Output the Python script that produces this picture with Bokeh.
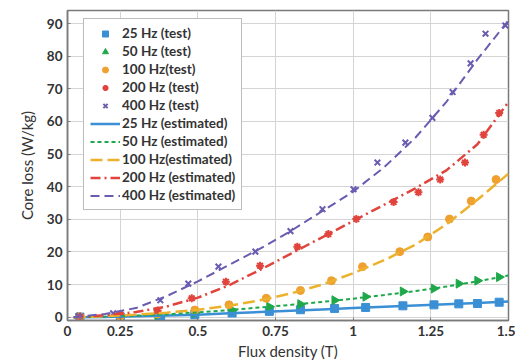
from bokeh.plotting import figure
from bokeh.models import Range1d, FixedTicker, Legend, LegendItem
from bokeh.embed import file_html
from bokeh.resources import INLINE

# ---- data ----
x_test_25 = [0.12, 0.25, 0.38, 0.49, 0.61, 0.73, 0.83, 0.94, 1.04, 1.16, 1.26, 1.34, 1.40, 1.47]
y_test_25 = [0.05, 0.1, -0.5, 0.8, 1.3, 1.8, 2.3, 2.7, 3.0, 3.5, 3.8, 4.1, 4.2, 4.6]

x_test_50 = [0.12, 0.25, 0.37, 0.49, 0.61, 0.73, 0.83, 0.94, 1.04, 1.16, 1.26, 1.34, 1.40, 1.47]
y_test_50 = [0.05, 0.2, 0.6, 1.3, 2.2, 3.2, 4.0, 5.2, 6.3, 7.9, 8.8, 10.3, 11.2, 12.3]

x_test_100 = [0.12, 0.25, 0.37, 0.49, 0.60, 0.72, 0.83, 0.93, 1.03, 1.15, 1.24, 1.31, 1.38, 1.46]
y_test_100 = [0.1, 0.3, 1.0, 2.2, 3.8, 5.8, 8.2, 11.2, 15.5, 20.1, 24.6, 30.1, 35.6, 42.2]

x_test_200 = [0.12, 0.25, 0.37, 0.48, 0.59, 0.70, 0.82, 0.92, 1.01, 1.13, 1.21, 1.28, 1.36, 1.42, 1.47]
y_test_200 = [0.2, 0.8, 2.1, 5.8, 10.9, 15.8, 21.6, 25.5, 30.1, 35.3, 38.3, 42.2, 47.4, 55.9, 62.6]

x_test_400 = [0.115, 0.227, 0.379, 0.469, 0.566, 0.685, 0.798, 0.901, 1.001, 1.078, 1.168, 1.255, 1.32, 1.378, 1.426, 1.49]
y_test_400 = [0.3, 1.2, 5.2, 10.3, 15.5, 20.1, 26.4, 33.1, 39.2, 47.4, 53.5, 61.1, 69.0, 77.8, 86.9, 89.4]

x_est = [0.1, 0.2, 0.3, 0.4, 0.5, 0.6, 0.7, 0.8, 0.9, 1.0, 1.1, 1.2, 1.3, 1.4, 1.5]
y_est_25 = [0, 0.1, 0.3, 0.5, 0.8, 1.2, 1.6, 2.0, 2.4, 2.8, 3.2, 3.6, 4.0, 4.4, 4.8]
y_est_50 = [0, 0.2, 0.5, 0.9, 1.5, 2.2, 3.0, 3.8, 4.7, 5.7, 6.8, 8.0, 9.4, 11.0, 12.8]
y_est_100 = [0, 0.3, 0.8, 1.4, 2.3, 3.5, 5.2, 7.3, 10.0, 13.5, 17.5, 22.2, 28.5, 36.0, 44.0]
y_est_200 = [0, 0.6, 1.6, 3.3, 6.0, 9.8, 14.5, 19.5, 24.5, 29.5, 34.5, 39.5, 45.0, 53.0, 66.0]
y_est_400 = [0, 1.0, 2.8, 6.5, 11.0, 16.0, 21.0, 26.5, 32.5, 38.5, 46.0, 55.0, 66.0, 79.0, 91.0]

x_ticks = [0.08, 0.25, 0.5, 0.75, 1.0, 1.25, 1.5]
x_tick_labels = ["0", "0.25", "0.5", "0.75", "1", "1.25", "1.5"]
y_ticks = [0, 10, 20, 30, 40, 50, 60, 70, 80, 90]

FONT = "Lato"
C25, C50, C100, C200, C400 = "#3b8fd4", "#1fa84a", "#ecb22e", "#e0443c", "#6a5cb0"

p = figure(width=515, height=362, output_backend="svg", toolbar_location=None,
           x_range=Range1d(0.08, 1.5), y_range=Range1d(-1, 94),
           min_border_left=67, min_border_right=7, min_border_top=10, min_border_bottom=40)
p.background_fill_color = "white"
p.border_fill_color = "white"
p.outline_line_color = "#7a7a7a"
p.outline_line_width = 1.5

p.xaxis.ticker = FixedTicker(ticks=x_ticks)
p.xaxis.major_label_overrides = {t: l for t, l in zip(x_ticks, x_tick_labels)}
p.yaxis.ticker = FixedTicker(ticks=y_ticks)
for ax in (p.xaxis[0], p.yaxis[0]):
    ax.axis_line_color = "#7a7a7a"
    ax.axis_line_width = 1.5
    ax.major_tick_in = 3
    ax.major_tick_out = 0
    ax.minor_tick_line_color = None
    ax.major_tick_line_color = "#7a7a7a"
    ax.major_label_text_font = FONT
    ax.major_label_text_font_size = "13.5px"
    ax.major_label_text_font_style = "bold"
    ax.major_label_text_color = "#333333"
    ax.axis_label_text_font = FONT
    ax.axis_label_text_font_size = "15px"
    ax.axis_label_text_font_style = "normal"
    ax.axis_label_text_color = "#333333"
p.xaxis.axis_label = "Flux density (T)"
p.yaxis.axis_label = "Core loss (W/kg)"
p.xaxis.axis_label_standoff = 3
p.yaxis.axis_label_standoff = 8
p.xgrid.grid_line_color = "#d4d4d4"
p.ygrid.grid_line_color = "#d4d4d4"

ms = 8
r1 = p.scatter(x_test_25, y_test_25, marker="square", size=ms, color=C25)
r2 = p.scatter(x_test_50, y_test_50, marker="triangle", angle=-1.5708, size=ms + 1, color=C50)
r3 = p.scatter(x_test_100, y_test_100, marker="circle", size=ms, color="#f0a030")
r4 = p.scatter(x_test_200, y_test_200, marker="asterisk", size=ms, line_color=C200, line_width=2)
r5 = p.scatter(x_test_400, y_test_400, marker="x", size=ms, line_color=C400, line_width=2)

l1 = p.line(x_est, y_est_25, line_color=C25, line_width=2.5)
l2 = p.line(x_est, y_est_50, line_color=C50, line_width=2, line_dash="4 3")
l3 = p.line(x_est, y_est_100, line_color=C100, line_width=2.5, line_dash="12 5")
l4 = p.line(x_est, y_est_200, line_color=C200, line_width=2.5, line_dash="10 4 2 4")
l5 = p.line(x_est, y_est_400, line_color=C400, line_width=2, line_dash="9 5")

items = [
    LegendItem(label="25 Hz (test)", renderers=[r1]),
    LegendItem(label="50 Hz (test)", renderers=[r2]),
    LegendItem(label="100 Hz(test)", renderers=[r3]),
    LegendItem(label="200 Hz (test)", renderers=[r4]),
    LegendItem(label="400 Hz (test)", renderers=[r5]),
    LegendItem(label="25 Hz (estimated)", renderers=[l1]),
    LegendItem(label="50 Hz (estimated)", renderers=[l2]),
    LegendItem(label="100 Hz(estimated)", renderers=[l3]),
    LegendItem(label="200 Hz (estimated)", renderers=[l4]),
    LegendItem(label="400 Hz (estimated)", renderers=[l5]),
]
legend = Legend(items=items, location=(16, 110))
legend.label_text_font = FONT
legend.label_text_font_size = "13.5px"
legend.label_text_font_style = "bold"
legend.label_text_color = "#333333"
legend.glyph_height = 15
legend.glyph_width = 30
legend.label_height = 15
legend.spacing = 2
legend.padding = 6
legend.margin = 0
legend.label_standoff = 2
legend.border_line_color = "#7a7a7a"
legend.border_line_width = 1
legend.background_fill_alpha = 1
p.add_layout(legend, "center")

open("out.html", "w").write(file_html(p, INLINE))
